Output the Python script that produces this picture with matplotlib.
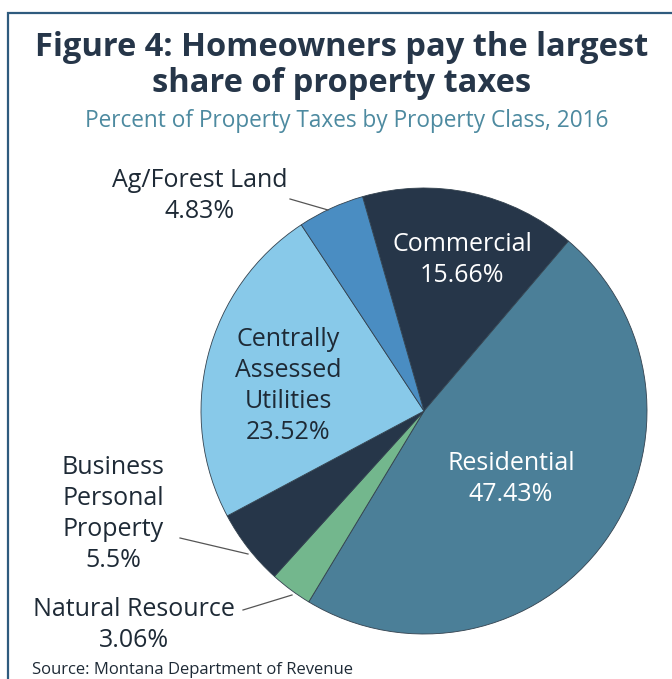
import matplotlib.pyplot as plt
from matplotlib.patches import Rectangle

plt.rcParams['font.family'] = ['Open Sans', 'DejaVu Sans']

classes = ["Commercial", "Residential", "Natural Resource",
           "Business Personal Property", "Centrally Assessed Utilities",
           "Ag/Forest Land"]
shares = [15.66, 47.43, 3.06, 5.5, 23.52, 4.83]
colors = ["#263649", "#4b7f98", "#73b78d", "#263649", "#88c9e9", "#4a8dc2"]

W, H = 672, 679
fig = plt.figure(figsize=(W / 100, H / 100), dpi=100)
ax = fig.add_axes([0, 0, 1, 1])

# frame around the figure
ax.add_patch(Rectangle((8, -20), 700, H - 13 + 20, fill=False,
                       edgecolor="#2f5b7e", lw=1.6))

cx, cy, r = 424, H - 411, 223
ax.pie(shares, colors=colors, startangle=106, counterclock=False,
       center=(cx, cy), radius=r, frame=True,
       wedgeprops=dict(edgecolor="#33424f", linewidth=0.6))
ax.set_xlim(0, W)
ax.set_ylim(0, H)
ax.set_aspect("equal")
ax.axis("off")

ax.text(342, H - 47, "Figure 4: Homeowners pay the largest", ha="center",
        va="center", fontsize=23.5, fontweight="bold", color="#263649")
ax.text(342, H - 84, "share of property taxes", ha="center", va="center",
        fontsize=23.5, fontweight="bold", color="#263649")
ax.text(347, H - 121, "Percent of Property Taxes by Property Class, 2016",
        ha="center", va="center", fontsize=16.3, color="#4d8aa0")

lab = dict(ha="center", va="center", fontsize=18, linespacing=1.3)
ax.text(462, H - 260, "Commercial\n15.66%", color="white", **lab)
ax.text(511, H - 479, "Residential\n47.43%", color="white", **lab)
ax.text(288, H - 386, "Centrally\nAssessed\nUtilities\n23.52%",
        color="#1e2a36", **lab)
ax.text(200, H - 196, "Ag/Forest Land\n4.83%", color="#1e2a36", **lab)
ax.text(113, H - 514, "Business\nPersonal\nProperty\n5.5%",
        color="#1e2a36", **lab)
ax.text(134, H - 625, "Natural Resource\n3.06%", color="#1e2a36", **lab)

# leader lines
ax.plot([290, 328], [H - 199, H - 210], color="#555555", lw=0.9)
ax.plot([180, 248], [H - 538, H - 554], color="#555555", lw=0.9)
ax.plot([243, 292], [H - 610, H - 595], color="#555555", lw=0.9)

ax.text(32, H - 670, "Source: Montana Department of Revenue", ha="left",
        va="center", fontsize=12, color="#1e2a36")

fig.savefig("out.png", dpi=100)
